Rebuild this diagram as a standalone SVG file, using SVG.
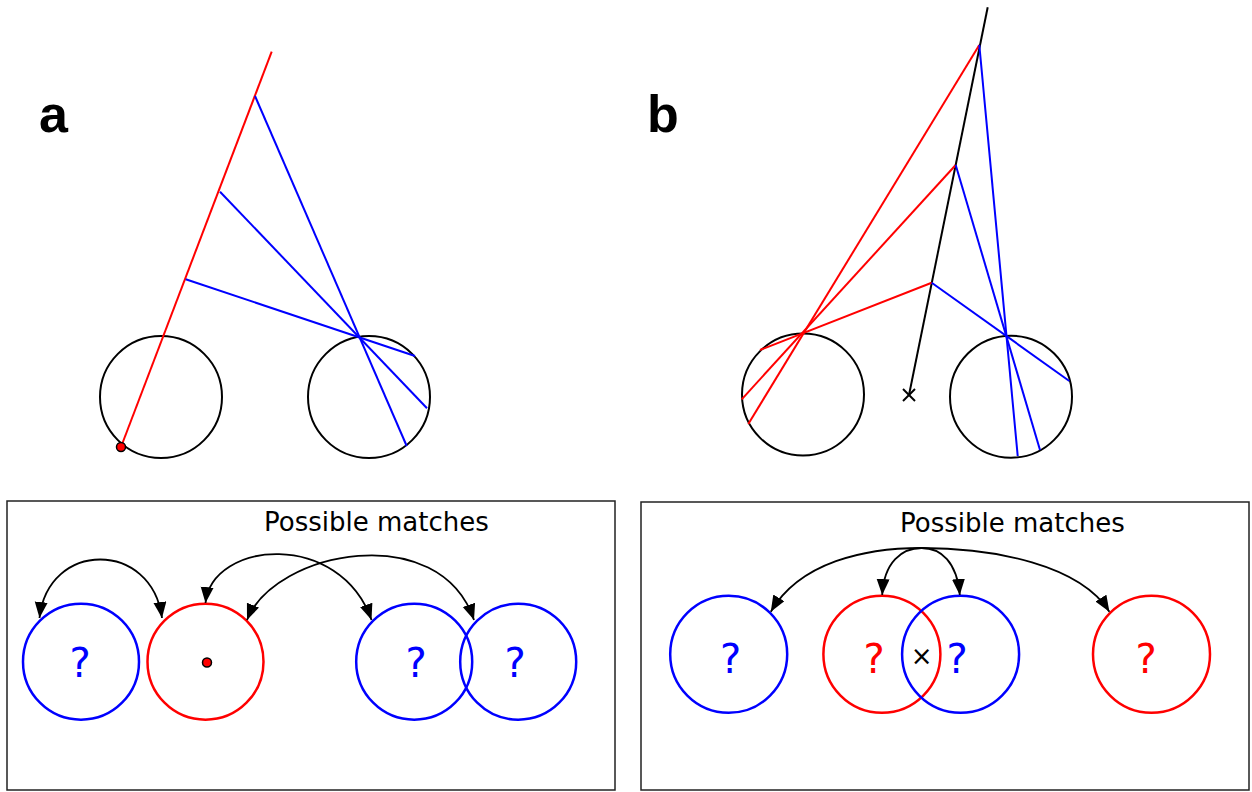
<svg xmlns="http://www.w3.org/2000/svg" width="1252" height="792" viewBox="0 0 1252 792">
<defs>
<marker id="ah" markerUnits="userSpaceOnUse" markerWidth="18" markerHeight="14" refX="16" refY="6.5" orient="auto-start-reverse">
<path d="M0,0 L16,6.5 L0,13 z" fill="#000"/>
</marker>
<style>
.red{stroke:#ff0000;stroke-width:2;fill:none}
.blue{stroke:#0000ff;stroke-width:2;fill:none}
.blk{stroke:#000;stroke-width:2;fill:none}
.cb{stroke:#0000ff;stroke-width:2.5;fill:none}
.cr{stroke:#ff0000;stroke-width:2.5;fill:none}
.box{stroke:#222;stroke-width:1.5;fill:none}
.arc{stroke:#000;stroke-width:1.8;fill:none;marker-start:url(#ah);marker-end:url(#ah)}
.lbl{font-family:"Liberation Sans",Arial,sans-serif;font-weight:bold;font-size:52px;fill:#000}
.title{font-family:"DejaVu Sans",sans-serif;font-size:26px;fill:#000}
.q{font-family:"DejaVu Sans",sans-serif;font-size:40px;text-anchor:middle}
</style>
</defs>
<rect width="1252" height="792" fill="#fff"/>

<g id="panel-a">
<text class="lbl" x="39" y="132">a</text>
<circle id="a-left-circle" class="blk" cx="161" cy="397" r="61"/>
<circle id="a-right-circle" class="blk" cx="369" cy="397" r="61"/>
<line class="red" x1="271.7" y1="51.7" x2="121" y2="447"/>
<line class="blue" x1="255" y1="96" x2="406.7" y2="446"/>
<line class="blue" x1="220" y1="191.7" x2="427" y2="408.3"/>
<line class="blue" x1="185.7" y1="279.3" x2="415" y2="356"/>
<circle cx="121" cy="447" r="4.5" fill="#ff0000" stroke="#000" stroke-width="1.5"/>
</g>

<g id="panel-b">
<text class="lbl" x="647" y="132">b</text>
<circle id="b-left-circle" class="blk" cx="803" cy="394.5" r="61"/>
<circle id="b-right-circle" class="blk" cx="1011" cy="396.7" r="61"/>
<line class="blk" x1="987.7" y1="7.3" x2="909" y2="395"/>
<line class="blk" x1="903" y1="389" x2="915" y2="401"/>
<line class="blk" x1="915" y1="389" x2="903" y2="401"/>
<line class="red" x1="979.3" y1="45" x2="748.3" y2="424"/>
<line class="red" x1="955.7" y1="165" x2="741.7" y2="399.3"/>
<line class="red" x1="931.7" y1="282.7" x2="760" y2="350"/>
<line class="blue" x1="979.3" y1="45" x2="1017.7" y2="456"/>
<line class="blue" x1="955.7" y1="165" x2="1040" y2="450"/>
<line class="blue" x1="931.7" y1="282.7" x2="1069.3" y2="381"/>
</g>

<g id="box-a">
<rect class="box" x="7" y="501" width="608" height="289"/>
<text class="title" x="264" y="531">Possible matches</text>
<g id="a-m1"><circle class="cb" cx="81" cy="661.7" r="58"/><text class="q" x="80" y="677" fill="#0000ff">?</text></g>
<g id="a-m2"><circle class="cr" cx="205.5" cy="661.7" r="58"/><circle cx="207" cy="662.5" r="4.5" fill="#ff0000" stroke="#000" stroke-width="1.5"/></g>
<g id="a-m3"><circle class="cb" cx="414.2" cy="661.7" r="58"/><text class="q" x="416" y="677" fill="#0000ff">?</text></g>
<g id="a-m4"><circle class="cb" cx="518.2" cy="661.7" r="58"/><text class="q" x="515" y="677" fill="#0000ff">?</text></g>
</g>

<g id="box-b">
<rect class="box" x="641" y="502" width="608" height="288"/>
<text class="title" x="900" y="532">Possible matches</text>
<g id="b-m1"><circle class="cb" cx="728.7" cy="654.3" r="58.5"/><text class="q" x="730.5" y="673" fill="#0000ff">?</text></g>
<g id="b-m2"><circle class="cr" cx="881.9" cy="654.3" r="58.5"/><text class="q" x="874" y="673" fill="#ff0000">?</text></g>
<g id="b-m3"><circle class="cb" cx="960.6" cy="654.3" r="58.5"/><text class="q" x="957" y="673" fill="#0000ff">?</text></g>
<g id="b-m4"><circle class="cr" cx="1151.5" cy="654.3" r="58.5"/><text class="q" x="1146" y="673" fill="#ff0000">?</text></g>
<text x="921.7" y="665" font-family="DejaVu Sans,sans-serif" font-size="26" text-anchor="middle" fill="#000">×</text>
</g>

<g id="connectors">
<path class="arc" d="M39.5,618 C48,540 152,540 162,618"/>
<path class="arc" d="M205.5,603 C212,540 340,530 371.5,620"/>
<path class="arc" d="M247,620 C275,550 440,519 474,620"/>
<path class="arc" d="M770.8,611.7 C800,562 865,548 921.6,548 C995,548 1080,565 1109.4,611.7"/>
<path class="arc" d="M882.2,595 C884,562 902,548 921.6,548 C941,548 957,562 959.8,595"/>
</g>
</svg>
